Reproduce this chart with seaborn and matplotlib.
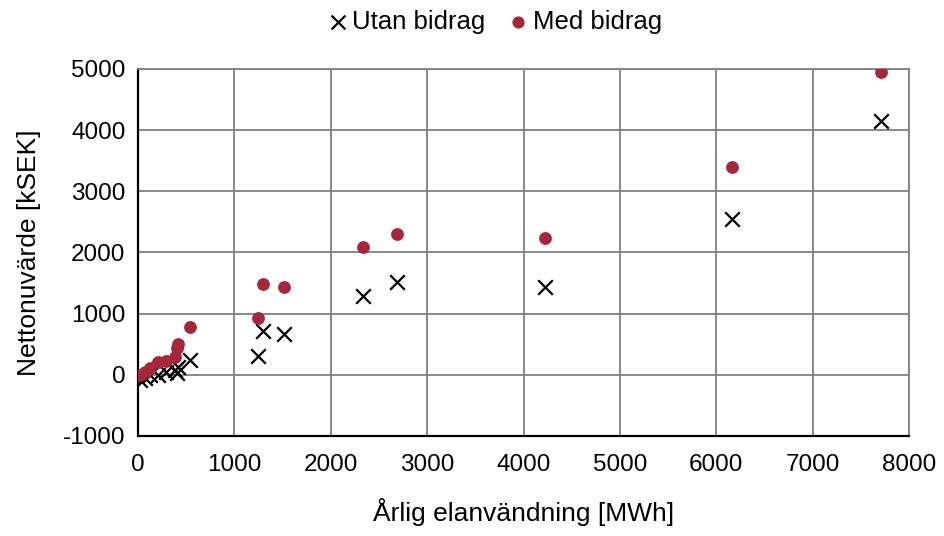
import matplotlib
matplotlib.use("Agg")
import matplotlib.pyplot as plt
import seaborn as sns
import pandas as pd

# Annual electricity use [MWh] and net present value [kSEK]
elanvandning = [20, 70, 120, 210, 290, 380, 400, 420, 540, 1240, 1300, 1510, 2330, 2690, 4220, 6160, 7710]
utan_bidrag = [-80, -50, -10, 0, 50, 80, 30, 130, 245, 310, 720, 670, 1290, 1510, 1440, 2550, 4150]
med_bidrag = [0, 40, 110, 210, 230, 290, 440, 500, 780, 930, 1490, 1440, 2090, 2310, 2230, 3390, 4950]

x_ticks = [0, 1000, 2000, 3000, 4000, 5000, 6000, 7000, 8000]
y_ticks = [-1000, 0, 1000, 2000, 3000, 4000, 5000]

df = pd.DataFrame({
    "x": elanvandning * 2,
    "y": utan_bidrag + med_bidrag,
    "serie": ["Utan bidrag"] * len(elanvandning) + ["Med bidrag"] * len(elanvandning),
})

sns.set_theme(style="white")
plt.rcParams["font.family"] = ["Liberation Sans", "DejaVu Sans"]
plt.rcParams["axes.unicode_minus"] = False
plt.rcParams["text.color"] = "black"
plt.rcParams["axes.labelcolor"] = "black"

fig = plt.figure(figsize=(9.44, 5.36), dpi=100)
ax = fig.add_axes([0.1462, 0.1866, 0.8168, 0.6847])

sns.scatterplot(data=df[df.serie == "Utan bidrag"], x="x", y="y", ax=ax,
                marker="x", color="black", s=110, linewidth=1.6,
                label="Utan bidrag", zorder=3)
sns.scatterplot(data=df[df.serie == "Med bidrag"], x="x", y="y", ax=ax,
                marker="o", color="#A6263A", s=85, linewidth=0,
                label="Med bidrag", zorder=3)

ax.set_xlim(0, 8000)
ax.set_ylim(-1000, 5000)
ax.set_xticks(x_ticks)
ax.set_yticks(y_ticks)
ax.grid(True, color="#7f7f7f", linewidth=1.3)
ax.set_axisbelow(True)

for side in ["top", "right"]:
    ax.spines[side].set_color("#7f7f7f")
    ax.spines[side].set_linewidth(1.3)
for side in ["left", "bottom"]:
    ax.spines[side].set_color("black")
    ax.spines[side].set_linewidth(1.6)

ax.tick_params(axis="both", labelsize=17.5, colors="black", length=0)
ax.tick_params(axis="x", pad=13)
ax.tick_params(axis="y", pad=9)
ax.set_xlabel("Årlig elanvändning [MWh]", fontsize=19, labelpad=16)
ax.set_ylabel("Nettonuvärde [kSEK]", fontsize=19, labelpad=16)

ax.legend(loc="center", bbox_to_anchor=(0.464, 1.128), ncol=2, frameon=False,
          fontsize=18.5, handlelength=0.6, handletextpad=0.25, columnspacing=1.0,
          markerscale=0.95, borderaxespad=0)

fig.savefig("out.png", dpi=100)
